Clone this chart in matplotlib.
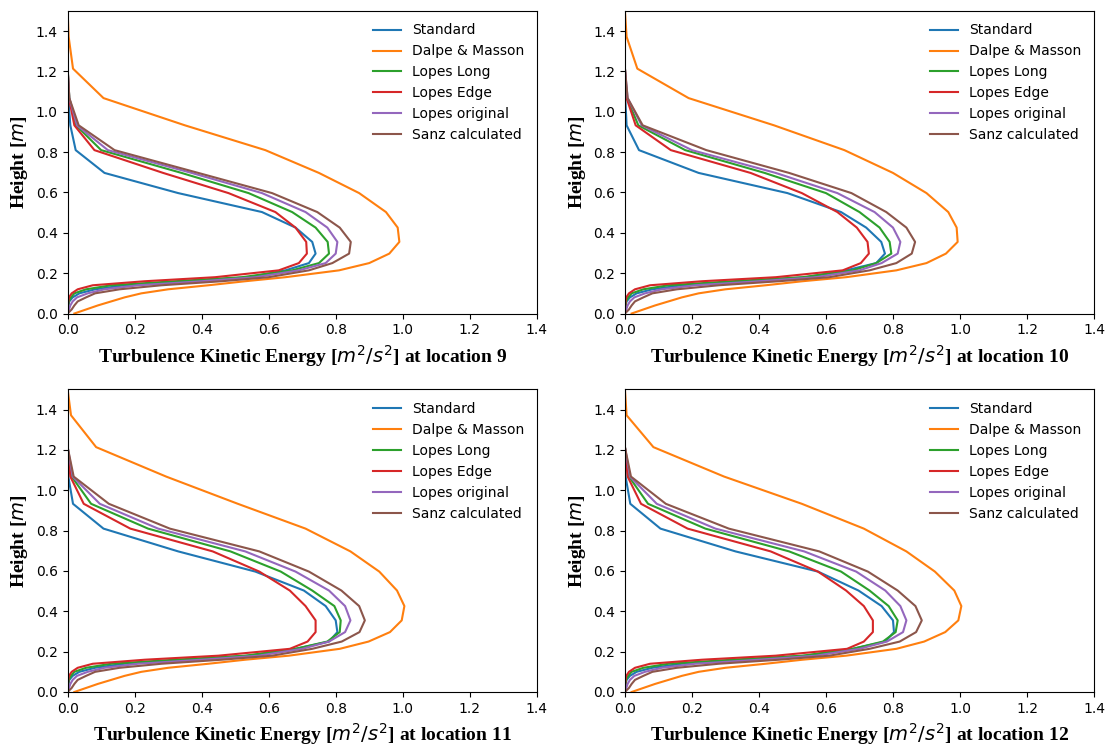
import matplotlib
matplotlib.use("Agg")
from matplotlib import pyplot as plt

# Heights of the sample points [m]
heights = [0.00, 0.02, 0.04, 0.06, 0.08, 0.10, 0.12, 0.14, 0.16, 0.18, 0.214, 0.25,
           0.297, 0.355, 0.426, 0.503, 0.597, 0.697, 0.81, 0.933, 1.068, 1.214, 1.372, 1.50]

labels = ["Standard", "Dalpe & Masson", "Lopes Long", "Lopes Edge", "Lopes original", "Sanz calculated"]
locations = [9, 10, 11, 12]

# TKE values [m^2/s^2] read at each height, per location
std9 = [0.0, 0.001, 0.002, 0.005, 0.015, 0.035, 0.082, 0.17, 0.36, 0.54, 0.65, 0.72, 0.74, 0.73, 0.68, 0.58, 0.33, 0.11, 0.024, 0.008, 0.002, 0.0, 0.0, 0.0]
dal9 = [0.02, 0.055, 0.09, 0.13, 0.17, 0.22, 0.30, 0.42, 0.53, 0.65, 0.81, 0.90, 0.96, 0.99, 0.985, 0.95, 0.87, 0.75, 0.59, 0.35, 0.107, 0.016, 0.003, 0.0]
long9 = [0.0, 0.001, 0.002, 0.003, 0.01, 0.02, 0.055, 0.13, 0.32, 0.52, 0.67, 0.75, 0.78, 0.776, 0.74, 0.67, 0.54, 0.34, 0.10, 0.025, 0.005, 0.0, 0.0, 0.0]
edge9 = [0.0, 0.001, 0.001, 0.002, 0.004, 0.012, 0.03, 0.075, 0.23, 0.44, 0.63, 0.69, 0.714, 0.712, 0.68, 0.62, 0.48, 0.285, 0.08, 0.02, 0.004, 0.0, 0.0, 0.0]
orig9 = [0.0, 0.004, 0.008, 0.015, 0.028, 0.06, 0.11, 0.21, 0.40, 0.56, 0.69, 0.77, 0.80, 0.805, 0.775, 0.71, 0.58, 0.37, 0.12, 0.028, 0.005, 0.0, 0.0, 0.0]
sanz9 = [0.0, 0.012, 0.02, 0.03, 0.055, 0.082, 0.155, 0.28, 0.46, 0.60, 0.72, 0.79, 0.84, 0.845, 0.812, 0.745, 0.61, 0.39, 0.14, 0.033, 0.005, 0.0, 0.0, 0.0]

std10 = [0.0, 0.001, 0.002, 0.005, 0.015, 0.035, 0.082, 0.17, 0.36, 0.54, 0.66, 0.75, 0.776, 0.765, 0.72, 0.645, 0.485, 0.22, 0.042, 0.005, 0.001, 0.0, 0.0, 0.0]
dal10 = [0.02, 0.055, 0.09, 0.13, 0.17, 0.22, 0.30, 0.42, 0.53, 0.66, 0.81, 0.90, 0.958, 0.993, 0.99, 0.965, 0.90, 0.80, 0.655, 0.445, 0.19, 0.037, 0.005, 0.0]
long10 = [0.0, 0.001, 0.002, 0.003, 0.01, 0.02, 0.055, 0.13, 0.32, 0.53, 0.68, 0.75, 0.795, 0.79, 0.76, 0.70, 0.60, 0.417, 0.18, 0.04, 0.006, 0.0, 0.0, 0.0]
edge10 = [0.0, 0.001, 0.001, 0.002, 0.004, 0.012, 0.03, 0.075, 0.23, 0.45, 0.65, 0.704, 0.728, 0.724, 0.692, 0.634, 0.528, 0.375, 0.137, 0.032, 0.005, 0.0, 0.0, 0.0]
orig10 = [0.0, 0.004, 0.008, 0.015, 0.028, 0.06, 0.11, 0.21, 0.40, 0.57, 0.70, 0.766, 0.814, 0.822, 0.80, 0.745, 0.634, 0.45, 0.20, 0.05, 0.008, 0.0, 0.0, 0.0]
sanz10 = [0.0, 0.012, 0.02, 0.03, 0.055, 0.082, 0.155, 0.28, 0.46, 0.61, 0.73, 0.81, 0.856, 0.866, 0.84, 0.78, 0.676, 0.49, 0.243, 0.053, 0.008, 0.0, 0.0, 0.0]

std11 = [0.0, 0.001, 0.002, 0.005, 0.015, 0.035, 0.082, 0.17, 0.36, 0.54, 0.68, 0.78, 0.805, 0.80, 0.77, 0.705, 0.56, 0.33, 0.107, 0.016, 0.002, 0.0, 0.0, 0.0]
dal11 = [0.02, 0.055, 0.09, 0.13, 0.17, 0.22, 0.30, 0.42, 0.53, 0.66, 0.812, 0.898, 0.962, 0.997, 1.005, 0.983, 0.93, 0.844, 0.71, 0.508, 0.294, 0.085, 0.01, 0.0]
long11 = [0.0, 0.001, 0.002, 0.003, 0.01, 0.02, 0.055, 0.13, 0.32, 0.53, 0.68, 0.775, 0.812, 0.815, 0.796, 0.73, 0.636, 0.486, 0.24, 0.07, 0.012, 0.0, 0.0, 0.0]
edge11 = [0.0, 0.001, 0.001, 0.002, 0.004, 0.012, 0.03, 0.075, 0.23, 0.45, 0.663, 0.716, 0.74, 0.74, 0.71, 0.663, 0.572, 0.433, 0.187, 0.048, 0.008, 0.0, 0.0, 0.0]
orig11 = [0.0, 0.004, 0.008, 0.015, 0.028, 0.06, 0.11, 0.21, 0.40, 0.57, 0.70, 0.78, 0.828, 0.844, 0.828, 0.78, 0.68, 0.53, 0.27, 0.096, 0.015, 0.0, 0.0, 0.0]
sanz11 = [0.0, 0.012, 0.02, 0.03, 0.055, 0.082, 0.155, 0.28, 0.46, 0.61, 0.73, 0.818, 0.871, 0.887, 0.87, 0.817, 0.72, 0.572, 0.305, 0.123, 0.018, 0.0, 0.0, 0.0]

std12 = [0.0, 0.001, 0.002, 0.005, 0.015, 0.035, 0.082, 0.17, 0.36, 0.54, 0.68, 0.777, 0.803, 0.80, 0.766, 0.697, 0.576, 0.33, 0.106, 0.016, 0.002, 0.0, 0.0, 0.0]
dal12 = [0.02, 0.055, 0.09, 0.13, 0.17, 0.22, 0.30, 0.42, 0.53, 0.66, 0.81, 0.893, 0.956, 0.995, 1.004, 0.983, 0.925, 0.84, 0.713, 0.528, 0.296, 0.085, 0.005, 0.0]
long12 = [0.0, 0.001, 0.002, 0.003, 0.01, 0.02, 0.055, 0.13, 0.32, 0.53, 0.68, 0.77, 0.808, 0.814, 0.787, 0.73, 0.645, 0.49, 0.24, 0.069, 0.012, 0.0, 0.0, 0.0]
edge12 = [0.0, 0.001, 0.001, 0.002, 0.004, 0.012, 0.03, 0.075, 0.23, 0.45, 0.663, 0.713, 0.74, 0.74, 0.713, 0.66, 0.576, 0.435, 0.187, 0.048, 0.008, 0.0, 0.0, 0.0]
orig12 = [0.0, 0.004, 0.008, 0.015, 0.028, 0.06, 0.11, 0.21, 0.40, 0.57, 0.70, 0.782, 0.83, 0.84, 0.822, 0.777, 0.69, 0.535, 0.27, 0.095, 0.015, 0.0, 0.0, 0.0]
sanz12 = [0.0, 0.012, 0.02, 0.03, 0.055, 0.082, 0.155, 0.28, 0.46, 0.61, 0.73, 0.82, 0.869, 0.886, 0.867, 0.814, 0.725, 0.58, 0.31, 0.122, 0.018, 0.0, 0.0, 0.0]

series = [
    [std9, dal9, long9, edge9, orig9, sanz9],
    [std10, dal10, long10, edge10, orig10, sanz10],
    [std11, dal11, long11, edge11, orig11, sanz11],
    [std12, dal12, long12, edge12, orig12, sanz12],
]

fig, axes = plt.subplots(2, 2, figsize=(11.09, 7.46), dpi=100)
fig.subplots_adjust(left=0.061, right=0.9865, bottom=0.0724, top=0.9853, wspace=0.188, hspace=0.251)

for ax, loc, curves in zip(axes.flat, locations, series):
    for tke, lab in zip(curves, labels):
        ax.plot(tke, heights, label=lab, linewidth=1.5)
    ax.set_xlim(0, 1.4)
    ax.set_ylim(0, 1.5)
    ax.set_xticks([0.0, 0.2, 0.4, 0.6, 0.8, 1.0, 1.2, 1.4])
    ax.set_yticks([0.0, 0.2, 0.4, 0.6, 0.8, 1.0, 1.2, 1.4])
    ax.set_xlabel(r"Turbulence Kinetic Energy [$m^2/s^2$] at location %d" % loc,
                  family="Liberation Serif", fontweight="bold", fontsize=14)
    ax.set_ylabel(r"Height [$m$]", family="Liberation Serif", fontweight="bold", fontsize=14)
    ax.legend(loc="upper right", frameon=False, fontsize=10)

fig.savefig("out.png")
